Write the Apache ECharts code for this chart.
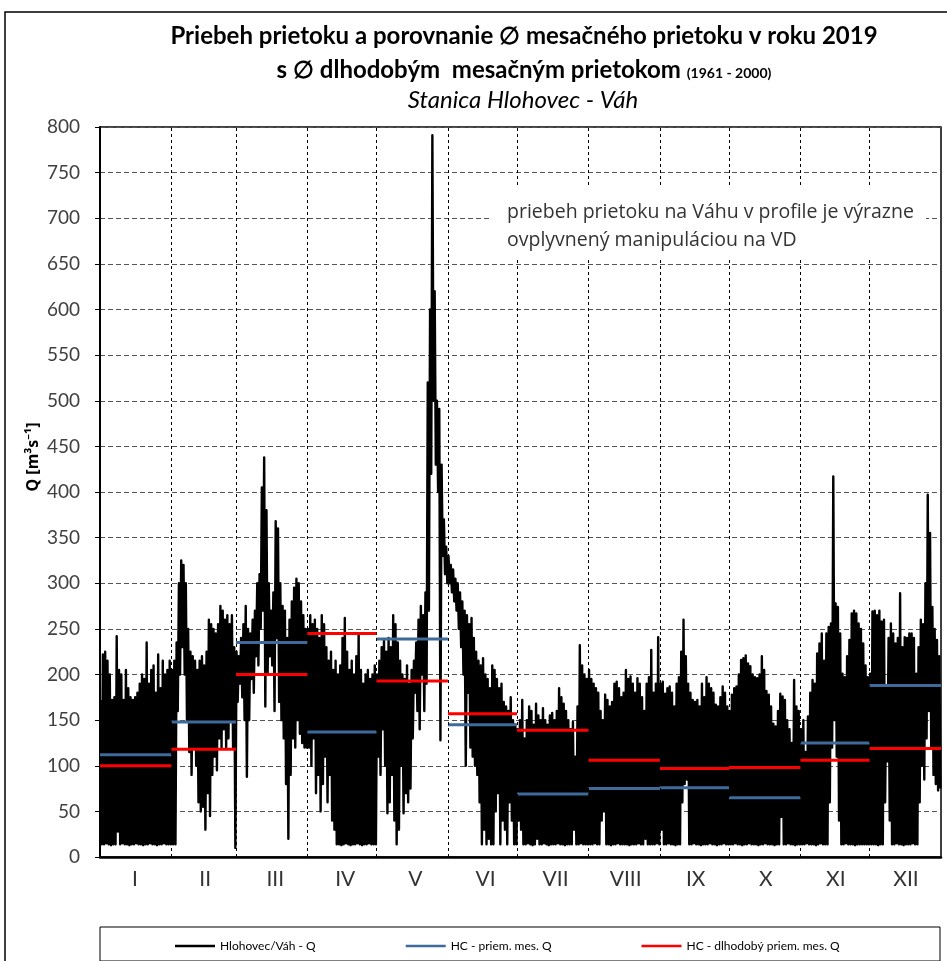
<!DOCTYPE html>
<html>
<head>
<meta charset="utf-8">
<title>Hlohovec - Váh 2019</title>
<script src="https://cdn.jsdelivr.net/npm/echarts@6/dist/echarts.min.js"></script>
<style>
  html, body { margin: 0; padding: 0; background: #fff; }
  #chart { width: 947px; height: 961px; }
</style>
</head>
<body>
<div id="chart"></div>
<script>
// months and their lengths (2019)
const months = ['I', 'II', 'III', 'IV', 'V', 'VI', 'VII', 'VIII', 'IX', 'X', 'XI', 'XII'];
const monthDays = [31, 28, 31, 30, 31, 30, 31, 31, 30, 31, 30, 31];

// HC - priem. mes. Q (2019) and HC - dlhodobý priem. mes. Q (1961-2000)
const monthlyMean = [112, 148, 235, 137, 239, 145, 69, 75, 76, 65, 125, 188];
const longTermMean = [100, 118, 200, 245, 193, 157, 139, 106, 97, 98, 106, 119];

// daily peak and daily minimum of Q [m3/s], one row per month
const qHigh = [
  [172, 222, 225, 215, 200, 172, 175, 242, 205, 200, 172, 205, 185, 175, 172, 175, 180, 190, 200, 195, 235, 190, 205, 210, 180, 222, 185, 215, 200, 205, 215],
  [205, 215, 235, 300, 325, 320, 300, 250, 225, 220, 215, 205, 215, 220, 210, 225, 260, 255, 250, 245, 255, 275, 270, 260, 265, 255, 265, 230],
  [225, 220, 240, 255, 275, 250, 245, 260, 270, 300, 310, 405, 438, 380, 300, 270, 290, 368, 360, 300, 275, 270, 240, 260, 280, 295, 305, 300, 280, 265, 250],
  [250, 265, 255, 260, 250, 240, 265, 255, 230, 215, 225, 205, 215, 200, 210, 240, 262, 225, 205, 215, 200, 220, 245, 205, 190, 200, 205, 195, 200, 210],
  [200, 215, 230, 238, 225, 240, 230, 265, 255, 235, 215, 200, 195, 210, 190, 205, 215, 235, 260, 275, 265, 290, 520, 600, 791, 620, 500, 491, 430, 370, 340],
  [330, 320, 315, 305, 300, 290, 280, 270, 265, 255, 262, 240, 225, 215, 210, 218, 200, 195, 185, 210, 205, 195, 185, 190, 170, 165, 160, 175, 150, 145],
  [140, 150, 172, 130, 150, 165, 160, 145, 168, 155, 150, 163, 150, 145, 155, 158, 150, 160, 185, 175, 168, 160, 150, 140, 148, 110, 165, 232, 210, 200, 195],
  [205, 195, 190, 185, 180, 160, 150, 178, 172, 165, 170, 190, 192, 185, 175, 180, 205, 195, 198, 190, 180, 196, 190, 175, 160, 190, 197, 227, 180, 190, 241],
  [190, 192, 179, 185, 187, 180, 165, 190, 197, 225, 260, 220, 190, 180, 172, 170, 172, 165, 190, 175, 197, 190, 185, 180, 167, 165, 175, 187, 180, 165],
  [160, 178, 185, 187, 200, 216, 218, 221, 212, 209, 200, 197, 196, 200, 220, 205, 182, 178, 165, 146, 143, 160, 179, 176, 172, 150, 140, 125, 194, 165, 160],
  [140, 150, 115, 154, 180, 194, 190, 223, 234, 245, 215, 245, 252, 256, 417, 278, 274, 245, 201, 197, 220, 238, 267, 270, 267, 256, 250, 234, 210, 197],
  [201, 269, 270, 265, 270, 258, 260, 187, 240, 256, 245, 234, 240, 289, 230, 241, 240, 245, 245, 240, 201, 230, 260, 255, 300, 397, 355, 274, 250, 238, 220]
];
const qLow = [
  [14, 14, 15, 14, 13, 14, 14, 28, 14, 15, 14, 14, 13, 14, 14, 15, 14, 14, 13, 14, 14, 15, 14, 14, 13, 14, 14, 15, 14, 14, 14],
  [14, 14, 160, 200, 230, 200, 150, 115, 90, 120, 100, 60, 50, 55, 30, 70, 45, 90, 110, 95, 130, 120, 140, 120, 130, 150, 120, 10],
  [170, 190, 175, 150, 88, 150, 195, 180, 220, 210, 250, 270, 165, 200, 220, 210, 160, 240, 170, 150, 130, 80, 20, 90, 130, 120, 150, 135, 125, 120, 120],
  [120, 100, 130, 70, 90, 50, 80, 110, 60, 90, 40, 30, 14, 14, 13, 14, 15, 14, 13, 14, 14, 15, 14, 13, 14, 14, 15, 14, 14, 14],
  [110, 90, 140, 100, 48, 60, 90, 40, 14, 30, 100, 48, 70, 60, 75, 130, 180, 160, 140, 200, 160, 190, 270, 420, 500, 430, 400, 128, 330, 310, 300],
  [300, 290, 280, 270, 250, 230, 200, 100, 180, 120, 110, 100, 90, 60, 14, 30, 14, 20, 14, 14, 50, 70, 14, 40, 30, 14, 60, 40, 14, 14],
  [40, 30, 14, 14, 15, 14, 13, 14, 20, 14, 14, 15, 14, 13, 14, 14, 14, 15, 14, 14, 13, 14, 14, 14, 30, 14, 14, 15, 14, 14, 14],
  [14, 14, 15, 14, 14, 40, 50, 14, 14, 13, 14, 14, 15, 14, 14, 14, 14, 13, 14, 14, 14, 15, 14, 14, 20, 14, 14, 14, 14, 15, 14],
  [30, 14, 14, 15, 14, 14, 13, 14, 14, 60, 80, 85, 14, 14, 15, 14, 14, 13, 14, 14, 14, 15, 14, 14, 13, 14, 14, 15, 14, 14],
  [14, 14, 15, 14, 14, 13, 14, 14, 15, 14, 14, 14, 13, 14, 14, 15, 14, 14, 14, 13, 14, 14, 44, 14, 14, 15, 14, 14, 13, 14, 14],
  [14, 14, 15, 14, 14, 14, 13, 14, 15, 14, 14, 14, 60, 120, 150, 110, 40, 14, 14, 15, 14, 14, 14, 13, 14, 14, 14, 14, 14, 14],
  [14, 14, 14, 13, 14, 14, 60, 105, 40, 14, 14, 15, 14, 14, 13, 14, 14, 14, 15, 14, 14, 60, 100, 85, 130, 160, 120, 90, 80, 73, 75]
];

const monthStart = [];
let acc = 0;
monthDays.forEach(n => { monthStart.push(acc); acc += n; });

// two readings per day: the peak, then the minimum
const flow = [];
qHigh.forEach((row, m) => {
  row.forEach((v, i) => {
    const d = monthStart[m] + i;
    flow.push([d + 0.25, v], [d + 0.75, qLow[m][i]]);
  });
});

// one flat segment per month, broken between months
function monthSteps(vals) {
  const out = [];
  vals.forEach((v, m) => {
    const end = monthStart[m] + monthDays[m];
    out.push([monthStart[m], v], [end, v], [end, null]);
  });
  return out;
}

const chart = echarts.init(document.getElementById('chart'));

const option = {
  animation: false,
  textStyle: { fontFamily: 'Lato' },
  grid: { left: 100, right: 6, top: 127, bottom: 104, show: true, borderColor: '#000', borderWidth: 1.5 },
  xAxis: [
    { type: 'value', min: 0, max: 365, show: false },
    {
      type: 'category',
      position: 'bottom',
      data: months,
      boundaryGap: true,
      axisLine: { lineStyle: { color: '#000', width: 2.5 } },
      axisTick: { show: false },
      splitLine: { show: false },
      axisLabel: { fontSize: 21, color: '#333', margin: 12 }
    }
  ],
  yAxis: {
    type: 'value',
    min: 0,
    max: 800,
    interval: 50,
    axisLine: { show: true, lineStyle: { color: '#000', width: 2 } },
    axisTick: { show: true, length: 5, lineStyle: { color: '#000' } },
    axisLabel: { fontSize: 19, color: '#404040', margin: 20 },
    splitLine: { lineStyle: { color: '#555', type: [5, 3], width: 1 } }
  },
  legend: {
    left: 170,
    top: 935,
    itemWidth: 40,
    itemHeight: 2.5,
    itemGap: 90,
    textStyle: { fontSize: 12, color: '#000', fontFamily: 'Lato' },
    data: [
      { name: 'Hlohovec/Váh - Q', icon: 'rect' },
      { name: 'HC - priem. mes. Q', icon: 'rect' },
      { name: 'HC - dlhodobý priem. mes. Q', icon: 'rect' }
    ]
  },
  series: [
    {
      type: 'line',
      data: [],
      z: 1,
      silent: true,
      markLine: {
        silent: true,
        symbol: 'none',
        label: { show: false },
        lineStyle: { color: '#000', type: [3, 3], width: 1 },
        data: monthStart.slice(1).map(x => ({ xAxis: x }))
      }
    },
    {
      name: 'Hlohovec/Váh - Q',
      type: 'line',
      data: flow,
      showSymbol: false,
      z: 3,
      color: '#000',
      lineStyle: { color: '#000', width: 2.4, join: 'round' }
    },
    {
      name: 'HC - priem. mes. Q',
      type: 'line',
      data: monthSteps(monthlyMean),
      showSymbol: false,
      z: 4,
      color: '#3E6A9C',
      lineStyle: { color: '#3E6A9C', width: 3 }
    },
    {
      name: 'HC - dlhodobý priem. mes. Q',
      type: 'line',
      data: monthSteps(longTermMean),
      showSymbol: false,
      z: 5,
      color: '#FF0000',
      lineStyle: { color: '#FF0000', width: 3 }
    }
  ],
  graphic: [
    {
      type: 'rect', z: 0,
      shape: { x: 5, y: 12, width: 980, height: 990 },
      style: { fill: 'none', stroke: '#000', lineWidth: 1.5 }
    },
    {
      type: 'text', x: 524, y: 36,
      style: { text: 'Priebeh prietoku a porovnanie ∅ mesačného prietoku v roku 2019', font: 'bold 24px Lato', fill: '#000', align: 'center', verticalAlign: 'middle' }
    },
    {
      type: 'text', x: 524, y: 70,
      style: {
        text: '{a|s ∅ dlhodobým  mesačným prietokom }{b|(1961 - 2000)}',
        align: 'center', verticalAlign: 'middle',
        rich: {
          a: { font: 'bold 24px Lato', fill: '#000' },
          b: { font: 'bold 14px Lato', fill: '#000', padding: [7, 0, 0, 0] }
        }
      }
    },
    {
      type: 'text', x: 523, y: 100,
      style: { text: 'Stanica Hlohovec - Váh', font: 'italic 24px Lato', fill: '#000', align: 'center', verticalAlign: 'middle' }
    },
    {
      type: 'text', x: 33, y: 457, rotation: Math.PI / 2,
      style: { text: 'Q [m³s⁻¹]', font: 'bold 16px "Noto Sans"', fill: '#000', align: 'center', verticalAlign: 'middle' }
    },
    {
      type: 'rect', z: 10,
      shape: { x: 490, y: 187, width: 436, height: 70 },
      style: { fill: '#fff' }
    },
    {
      type: 'text', z: 11, x: 507, y: 212,
      style: { text: 'priebeh prietoku na Váhu v profile je výrazne', font: '19.5px "Open Sans"', fill: '#333', verticalAlign: 'middle' }
    },
    {
      type: 'text', z: 11, x: 507, y: 240,
      style: { text: 'ovplyvnený manipuláciou na VD', font: '19.5px "Open Sans"', fill: '#333', verticalAlign: 'middle' }
    },
    {
      type: 'rect', z: 0,
      shape: { x: 100, y: 927, width: 840, height: 34 },
      style: { fill: 'none', stroke: '#000', lineWidth: 1 }
    }
  ]
};

chart.setOption(option);
</script>
</body>
</html>
